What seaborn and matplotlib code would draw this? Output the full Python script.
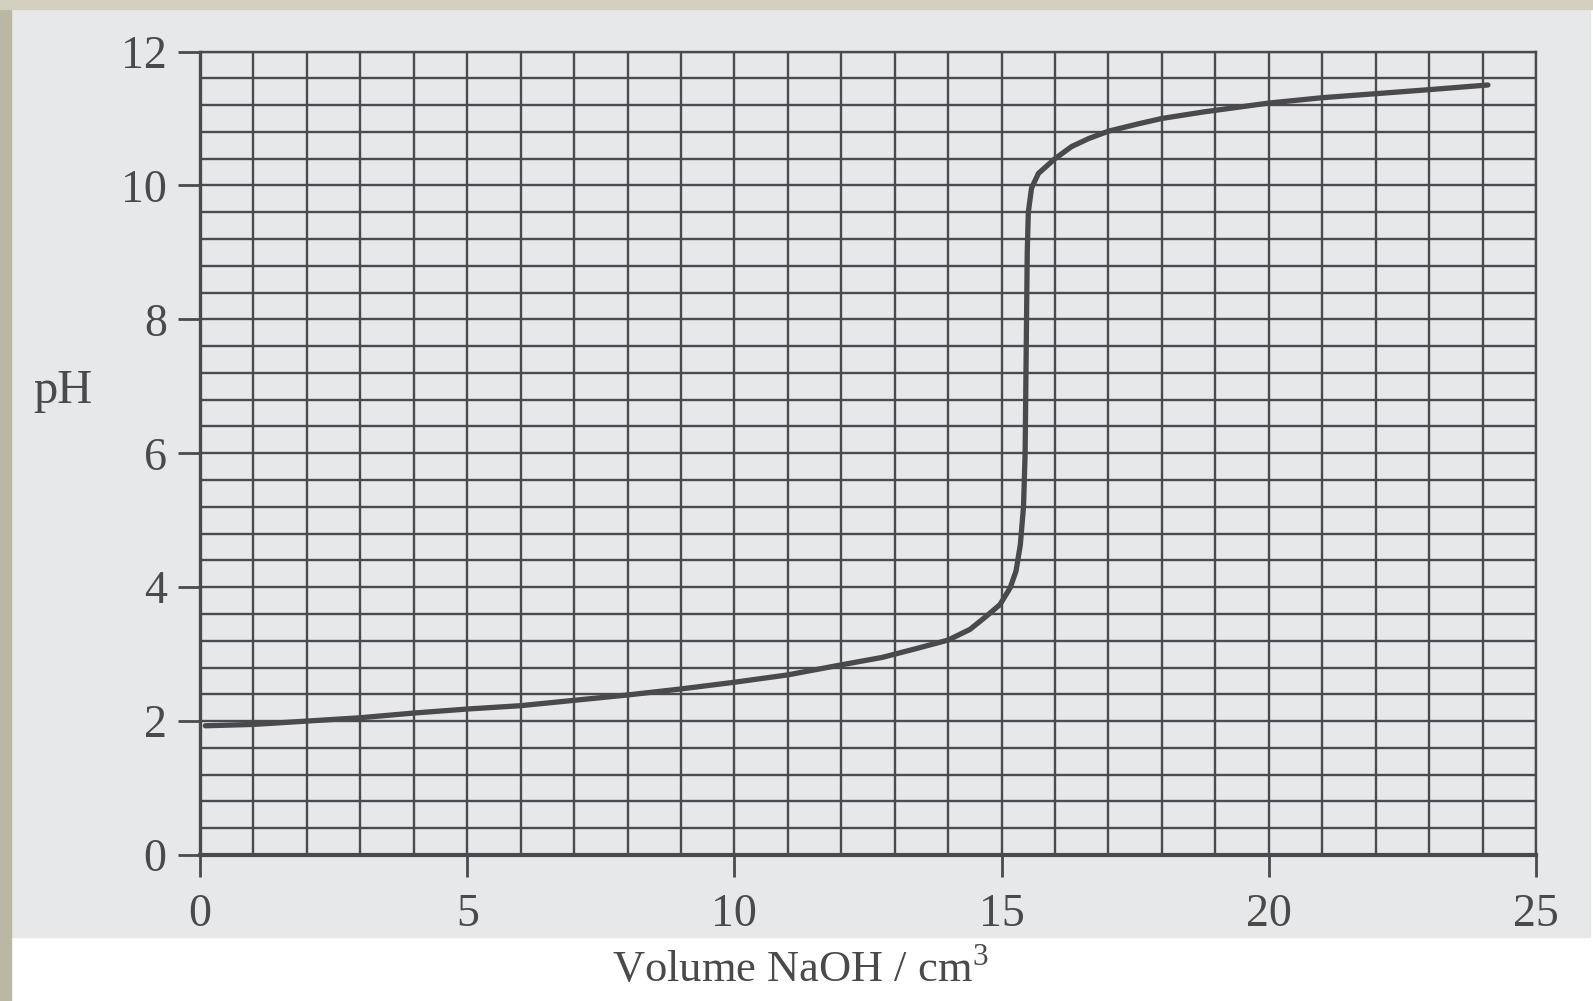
import matplotlib
matplotlib.use("Agg")
import matplotlib.pyplot as plt
from matplotlib.patches import Rectangle
import numpy as np
import pandas as pd
import seaborn as sns

# ---- data ----
volume = [0.1, 1, 2, 3, 4, 5, 6, 7, 8, 9, 10, 11, 12, 12.76, 13.39, 14.0,
          14.41, 14.72, 14.97, 15.16, 15.27, 15.35, 15.41, 15.44, 15.46,
          15.48, 15.5, 15.56, 15.69, 16.0, 16.31, 16.63, 17.0, 17.56, 18.0,
          18.8, 20, 21, 22, 23, 24.1]
ph = [1.93, 1.95, 2.0, 2.05, 2.12, 2.18, 2.23, 2.31, 2.39, 2.48, 2.58, 2.69,
      2.84, 2.95, 3.08, 3.21,
      3.37, 3.57, 3.74, 3.99, 4.24, 4.63, 5.2, 6.0, 7.5,
      9.0, 9.6, 9.96, 10.18, 10.4, 10.58, 10.70, 10.81, 10.92, 11.0,
      11.1, 11.23, 11.31, 11.37, 11.43, 11.5]
x_ticks = [0, 5, 10, 15, 20, 25]
y_ticks = [0, 2, 4, 6, 8, 10, 12]
x_label = "Volume NaOH / cm$^3$"
y_label = "pH"

df = pd.DataFrame({"volume": volume, "pH": ph})

sns.set_theme(style="white")
plt.rcParams["font.family"] = ["Liberation Serif", "DejaVu Serif"]
plt.rcParams["mathtext.fontset"] = "custom"
plt.rcParams["mathtext.rm"] = "Liberation Serif"

W, H = 1593, 1001
fig = plt.figure(figsize=(W / 100, H / 100), dpi=100, facecolor="white")

grid_c = "#484b4f"
text_c = "#4a4a4a"

# scanned-page backgrounds
fig.patches.append(Rectangle((12 / W, 1 - 937 / H), (1590 - 12) / W, (937 - 10) / H,
                             transform=fig.transFigure, color="#e7e8ea", zorder=-10))
fig.patches.append(Rectangle((0, 0), 11 / W, 1, transform=fig.transFigure,
                             color="#bab7a4", zorder=-9))
fig.patches.append(Rectangle((0, 1 - 9 / H), 1, 9 / H, transform=fig.transFigure,
                             color="#d3d0bf", zorder=-9))

ax_l, ax_r, ax_t, ax_b = 200, 1536, 51.5, 855
ax = fig.add_axes([ax_l / W, 1 - ax_b / H, (ax_r - ax_l) / W, (ax_b - ax_t) / H])
ax.patch.set_visible(False)

sns.lineplot(data=df, x="volume", y="pH", sort=False, ax=ax, color="#4a4a4c",
             linewidth=3.8, zorder=5)

ax.set_xlim(0, 25)
ax.set_ylim(0, 12)
ax.set_xticks(x_ticks)
ax.set_yticks(y_ticks)
ax.set_xticks(np.arange(0, 26, 1), minor=True)
ax.set_yticks(np.arange(0, 12.01, 0.4), minor=True)
ax.grid(which="both", color=grid_c, linewidth=1.7)
ax.set_axisbelow(False)

for side in ["top", "right"]:
    ax.spines[side].set_visible(True)
    ax.spines[side].set_color(grid_c)
    ax.spines[side].set_linewidth(1.7)
ax.spines["left"].set_color(grid_c)
ax.spines["left"].set_linewidth(2.4)
ax.spines["bottom"].set_color(grid_c)
ax.spines["bottom"].set_linewidth(3.0)

ax.tick_params(axis="both", which="major", direction="out", length=16, width=2.0,
               color=grid_c, labelcolor=text_c, labelsize=33,
               bottom=True, left=True, top=False, right=False)
ax.tick_params(axis="both", which="minor", length=0)
ax.tick_params(axis="x", pad=12)
ax.tick_params(axis="y", pad=8)

ax.set_xlabel(x_label, fontsize=32, color=text_c)
ax.xaxis.set_label_coords((800 - ax_l) / (ax_r - ax_l), (ax_b - 970) / (ax_b - ax_t))
ax.xaxis.label.set_verticalalignment("center")
ax.set_ylabel(y_label, fontsize=35, color=text_c, rotation=0)
ax.yaxis.set_label_coords((63 - ax_l) / (ax_r - ax_l), (ax_b - 391) / (ax_b - ax_t))
ax.yaxis.label.set_horizontalalignment("center")
ax.yaxis.label.set_verticalalignment("center")

fig.savefig("out.png", dpi=100, facecolor="white")
